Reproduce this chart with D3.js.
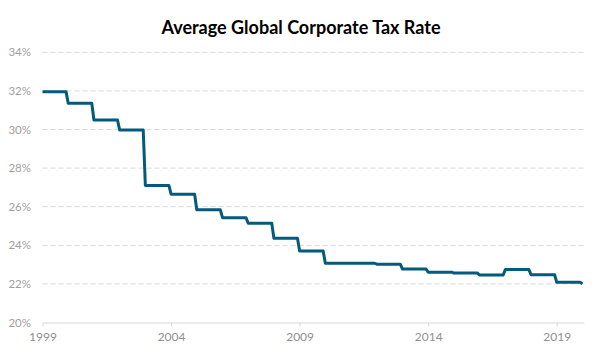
<!DOCTYPE html>
<html><head><meta charset="utf-8">
<script src="https://cdn.jsdelivr.net/npm/d3@7/dist/d3.min.js"></script>
<style>body{margin:0;background:#fff;}svg{display:block;}</style>
</head><body><svg id="c" width="600" height="355"></svg>
<script>
const years = [1999,2000,2001,2002,2003,2004,2005,2006,2007,2008,2009,2010,2011,2012,2013,2014,2015,2016,2017,2018,2019,2020];
const rates = [31.95,31.36,30.49,29.98,27.10,26.65,25.84,25.43,25.14,24.36,23.70,23.07,23.07,23.02,22.77,22.61,22.56,22.46,22.74,22.48,22.08,22.00];
const yTicks = [20,22,24,26,28,30,32,34];
const xTicks = [1999,2004,2009,2014,2019];
const title = "Average Global Corporate Tax Rate";

const svg = d3.select("#c");
const x = d3.scaleLinear().domain([1999, 2020.06]).range([42.5, 584]);
const y = d3.scaleLinear().domain([20, 34]).range([322.5, 52.3]);

// each annual value holds until the last month of the year, then steps to the next
const pts = [];
years.forEach((yr, i) => {
  pts.push([yr, rates[i]]);
  if (i < years.length - 1) pts.push([yr + 11/12, rates[i]]);
});

svg.append("text").attr("x", 301).attr("y", 34).attr("text-anchor", "middle")
  .style("font-family", "Lato, 'Open Sans', sans-serif").style("font-weight", "bold")
  .style("font-size", "18px").attr("fill", "#000").text(title);

// gridlines
svg.append("g").selectAll("line").data(yTicks.filter(d => d > 20)).join("line")
  .attr("x1", x.range()[0]).attr("x2", x.range()[1])
  .attr("y1", d => y(d)).attr("y2", d => y(d))
  .attr("stroke", "#d9d9d9").attr("stroke-width", 1).attr("stroke-dasharray", "5,3");

// y labels
svg.append("g").selectAll("text").data(yTicks).join("text")
  .attr("x", 31).attr("y", d => y(d)).attr("dy", "0.35em").attr("text-anchor", "end")
  .style("font-family", "Lato, 'Open Sans', sans-serif").style("font-size", "11.5px")
  .attr("fill", "#a0a0a0").text(d => d + "%");

// x axis
const xa = svg.append("g").attr("transform", `translate(0,${y(20)})`)
  .call(d3.axisBottom(x).tickValues(xTicks).tickFormat(d3.format("d")).tickSize(4).tickSizeOuter(0).tickPadding(6));
xa.select(".domain").attr("stroke", "#d9d9d9");
xa.selectAll(".tick line").attr("stroke", "#d9d9d9");
xa.selectAll(".tick text").style("font-family", "Lato, 'Open Sans', sans-serif").style("font-size", "12px").attr("fill", "#909090");

// line
svg.append("path").datum(pts)
  .attr("d", d3.line().x(d => x(d[0])).y(d => y(d[1])))
  .attr("fill", "none").attr("stroke", "#045a7d").attr("stroke-width", 3).attr("stroke-linejoin", "round");
</script></body></html>
